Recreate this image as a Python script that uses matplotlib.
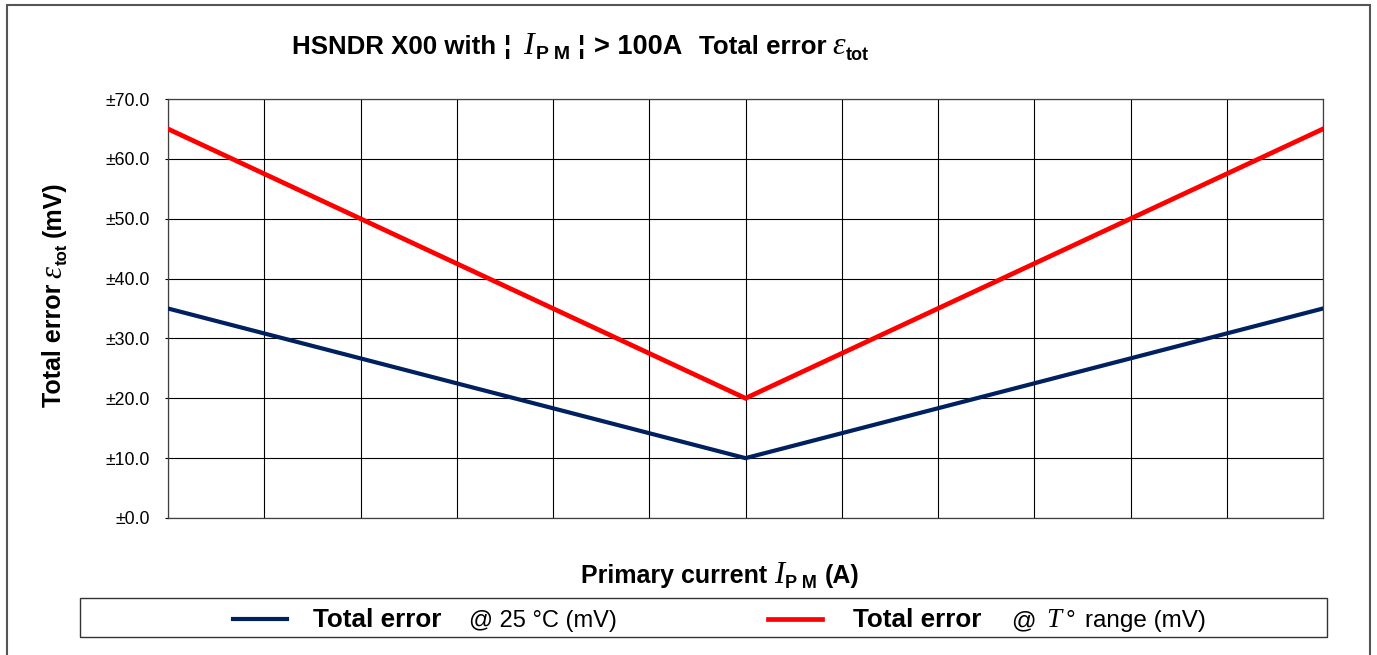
import matplotlib
matplotlib.use("Agg")
import matplotlib.pyplot as plt
from matplotlib.patches import Rectangle
from matplotlib.lines import Line2D

plt.rcParams['font.family'] = ['Liberation Sans', 'DejaVu Sans']

# Data
primary_current = [0, 6, 12]           # relative positions across the 12 grid columns
error_25c = [35.0, 10.0, 35.0]         # Total error @ 25 °C (mV)
error_trange = [65.0, 20.0, 65.0]      # Total error @ T° range (mV)
y_ticks = [0, 10, 20, 30, 40, 50, 60, 70]
x_grid = list(range(0, 13))
title_parts = ["HSNDR X00 with", "¦", "I", "P M", "¦", "> 100A", "Total error", "ε", "tot"]

W, H = 1377, 655
fig = plt.figure(figsize=(W / 100, H / 100), dpi=100)
ax = fig.add_axes([168 / W, 1 - 518 / H, (1323 - 168) / W, (518 - 99) / H])

navy = '#002060'
red = '#FF0000'

ax.plot(primary_current, error_trange, color=red, lw=3.4, solid_joinstyle='miter', zorder=3)
ax.plot(primary_current, error_25c, color=navy, lw=3.0, solid_joinstyle='miter', zorder=3)

ax.set_xlim(0, 12)
ax.set_ylim(0, 70)
ax.set_xticks(x_grid)
ax.set_xticklabels([])
ax.tick_params(axis='x', length=0)
ax.set_yticks(y_ticks)
ax.set_yticklabels([f"±{v:.1f}" for v in y_ticks], fontsize=12.8)
ax.tick_params(axis='y', length=2, width=0.8, pad=11, color='black')
ax.grid(True, color='black', lw=0.8)
ax.set_axisbelow(True)
for s in ax.spines.values():
    s.set_color('#404040')
    s.set_linewidth(0.9)

renderer = fig.canvas.get_renderer()

SANS_B = dict(family='Liberation Sans', fontweight='bold')
SANS = dict(family='Liberation Sans')
SERIF_I = dict(family='Liberation Serif', fontstyle='italic')


def rich(x0, y0, pieces, rotation=0):
    """pieces: (gap_px, text, props, size, dy_px). x0, y0 in pixels from top-left."""
    off = 0.0
    for gap, s, props, size, dy in pieces:
        off += gap
        if rotation == 0:
            t = fig.text((x0 + off) / W, 1 - (y0 - dy) / H, s, fontsize=size,
                         ha='left', va='baseline', **props)
            off += t.get_window_extent(renderer).width
        else:
            t = fig.text((x0 - dy) / W, 1 - (y0 - off) / H, s, fontsize=size,
                         rotation=90, rotation_mode='anchor',
                         ha='left', va='baseline', **props)
            off += t.get_window_extent(renderer).height


# Title
rich(292, 54, [
    (0, title_parts[0], SANS_B, 18.6, 0),
    (8, title_parts[1], SANS_B, 18.6, 0),
    (12, title_parts[2], SERIF_I, 23, 0),
    (2, title_parts[3], SANS_B, 14, -5),
    (8, title_parts[4], SANS_B, 18.6, 0),
    (9, title_parts[5], SANS_B, 19.5, 0),
    (16, title_parts[6], SANS_B, 18.6, 0),
    (6, title_parts[7], SERIF_I, 23, 0),
    (1, title_parts[8], SANS_B, 13, -6),
])

# X label
rich(581, 583, [
    (0, "Primary current", SANS_B, 18, 0),
    (7, "I", SERIF_I, 22, 0),
    (1, "P M", SANS_B, 13, -5),
    (8, "(A)", SANS_B, 18, 0),
])

# Y label (reads bottom to top)
rich(61, 407, [
    (0, "Total error", SANS_B, 18, 0),
    (6, "ε", SERIF_I, 22, 0),
    (1, "tot", SANS_B, 12, -6),
    (6, "(mV)", SANS_B, 18, 0),
], rotation=90)

# Legend box
fig.add_artist(Rectangle((80 / W, 1 - 637 / H), (1327 - 80) / W, (637 - 598) / H,
                         transform=fig.transFigure, fill=False, edgecolor='#333333', lw=1.0))
ly = 627
fig.add_artist(Line2D([233 / W, 287 / W], [1 - 619 / H] * 2, color=navy, lw=3.0,
                      transform=fig.transFigure))
rich(313, ly, [
    (0, "Total error", SANS_B, 18.8, 0),
    (28, "@ 25 °C (mV)", SANS, 17, 0),
])
fig.add_artist(Line2D([768 / W, 822 / W], [1 - 619 / H] * 2, color=red, lw=3.4,
                      transform=fig.transFigure))
rich(853, ly, [
    (0, "Total error", SANS_B, 18.8, 0),
    (30, "@", SANS, 17.5, 0),
    (10, "T", SERIF_I, 19.5, 0),
    (4, "°", SANS, 17.5, 0),
    (10, "range (mV)", SANS, 17.5, 0),
])

# Outer border
fig.add_artist(Rectangle((7 / W, -0.01), (1370 - 7) / W, 1 - 5 / H + 0.01,
                         transform=fig.transFigure, fill=False, edgecolor='#555555', lw=1.5))

fig.savefig("out.png", dpi=100)
